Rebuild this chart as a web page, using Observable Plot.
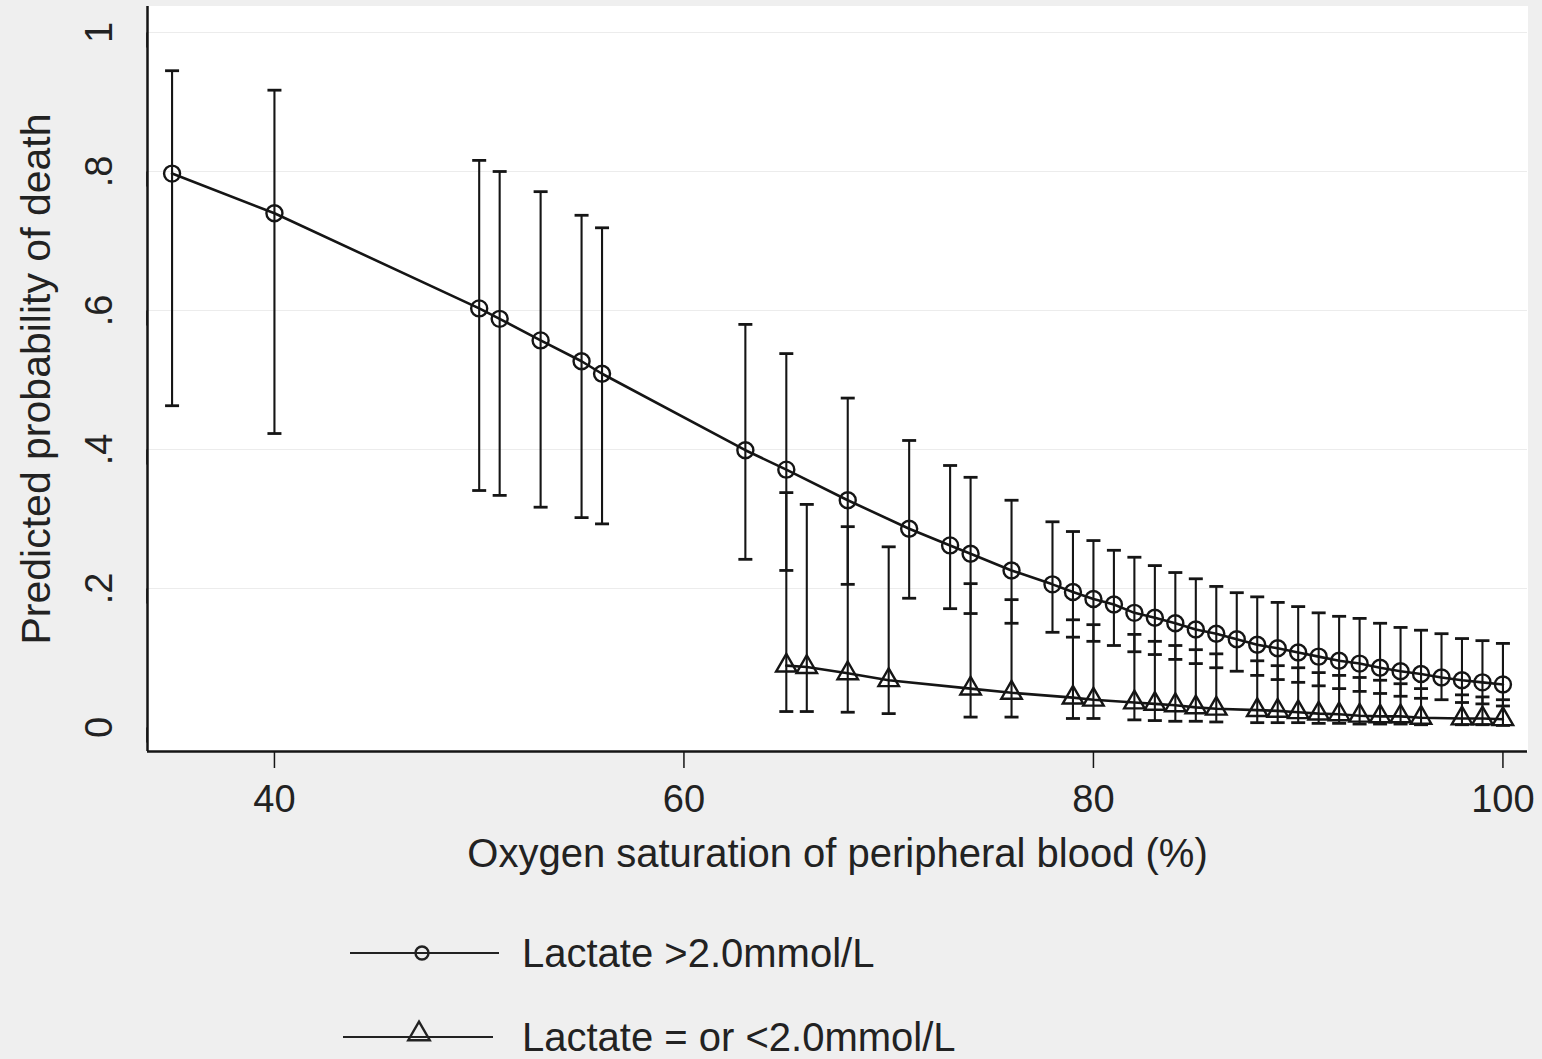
<!DOCTYPE html>
<html>
<head>
<meta charset="utf-8">
<script src="https://cdn.jsdelivr.net/npm/d3@7"></script>
<script src="https://cdn.jsdelivr.net/npm/@observablehq/plot@0.6"></script>
<style>
  html, body { margin: 0; padding: 0; background: #efefef; }
  #wrap { position: relative; width: 1542px; height: 1059px; background: #efefef; font-family: "Liberation Sans", Arial, sans-serif; color: #222; }
  #legend { position: absolute; left: 0; top: 900px; }
</style>
</head>
<body>
<div id="wrap">
  <div id="chart"></div>
  <svg id="legend" width="1542" height="159"></svg>
</div>
<script>
// Lactate >2.0mmol/L (circles)
const satHigh  = [35,40,50,51,53,55,56,63,65,68,71,73,74,76,78,79,80,81,82,83,84,85,86,87,88,89,90,91,92,93,94,95,96,97,98,99,100];
const probHigh = [0.797,0.740,0.603,0.588,0.557,0.527,0.509,0.399,0.371,0.327,0.286,0.262,0.250,0.226,0.206,0.195,0.185,0.177,0.165,0.158,0.150,0.141,0.135,0.127,0.119,0.114,0.108,0.102,0.096,0.092,0.086,0.081,0.077,0.072,0.068,0.065,0.062];
const lowHigh  = [0.463,0.423,0.341,0.334,0.317,0.302,0.293,0.242,0.226,0.206,0.186,0.171,0.164,0.150,0.137,0.130,0.124,0.118,0.109,0.105,0.098,0.092,0.086,0.081,0.075,0.069,0.065,0.060,0.056,0.052,0.049,0.045,0.042,0.040,0.036,0.034,0.031];
const upHigh   = [0.945,0.917,0.816,0.800,0.771,0.737,0.719,0.580,0.538,0.474,0.413,0.377,0.360,0.327,0.296,0.282,0.269,0.255,0.245,0.233,0.223,0.214,0.203,0.194,0.188,0.180,0.174,0.165,0.160,0.157,0.150,0.144,0.140,0.135,0.128,0.125,0.121];

// Lactate = or <2.0mmol/L (triangles)
const satLow  = [65,66,68,70,74,76,79,80,82,83,84,85,86,88,89,90,91,92,93,94,95,96,98,99,100];
const probLow = [0.089,0.087,0.078,0.068,0.056,0.050,0.043,0.040,0.036,0.034,0.032,0.029,0.027,0.025,0.024,0.022,0.020,0.019,0.017,0.016,0.016,0.014,0.013,0.013,0.012];
const lowLow  = [0.023,0.023,0.022,0.020,0.015,0.015,0.013,0.013,0.011,0.010,0.009,0.009,0.008,0.007,0.007,0.007,0.006,0.006,0.005,0.005,0.005,0.004,0.004,0.004,0.003];
const upLow   = [0.338,0.321,0.289,0.260,0.207,0.184,0.155,0.148,0.134,0.124,0.118,0.112,0.106,0.096,0.089,0.086,0.079,0.075,0.072,0.068,0.063,0.056,0.047,0.044,0.040];

const xTicks = [40, 60, 80, 100];
const yTicks = [0, 0.2, 0.4, 0.6, 0.8, 1];
const yTickLabels = ["0", ".2", ".4", ".6", ".8", "1"];
const xDomain = [33.8, 101.2];
const yDomain = [-0.0345, 1.0374];

const seriesNames = ["Lactate >2.0mmol/L", "Lactate = or <2.0mmol/L"];
const xLabel = "Oxygen saturation of peripheral blood (%)";
const yLabel = "Predicted probability of death";

const high = satHigh.map((x, i) => ({x, y: probHigh[i], lo: lowHigh[i], hi: upHigh[i]}));
const low  = satLow.map((x, i) => ({x, y: probLow[i], lo: lowLow[i], hi: upLow[i]}));

const cap = { draw(ctx, size) { const r = Math.sqrt(size / Math.PI); ctx.moveTo(-r, 0); ctx.lineTo(r, 0); } };
const ink = "#151515";

const errMarks = (data) => [
  Plot.ruleX(data, {x: "x", y1: "lo", y2: "hi", stroke: ink, strokeWidth: 2.1}),
  Plot.dot(data, {x: "x", y: "hi", symbol: cap, r: 7, stroke: ink, strokeWidth: 2.8}),
  Plot.dot(data, {x: "x", y: "lo", symbol: cap, r: 7, stroke: ink, strokeWidth: 2.8})
];

const chart = Plot.plot({
  width: 1542,
  height: 900,
  marginLeft: 147,
  marginRight: 15,
  marginTop: 6,
  marginBottom: 149,
  style: {background: "#efefef", fontFamily: "Liberation Sans, Arial, sans-serif", color: "#222"},
  x: {domain: xDomain},
  y: {domain: yDomain},
  marks: [
    Plot.frame({fill: "white", stroke: "white"}),
    Plot.gridY(yTicks.slice(1), {stroke: "#ececec", strokeOpacity: 1, strokeWidth: 1}),
    ...errMarks(high),
    ...errMarks(low),
    Plot.line(high, {x: "x", y: "y", stroke: ink, strokeWidth: 2.6}),
    Plot.line(low, {x: "x", y: "y", stroke: ink, strokeWidth: 2.6}),
    Plot.dot(high, {x: "x", y: "y", symbol: "circle", r: 8, stroke: ink, strokeWidth: 2.4, fill: "none"}),
    Plot.dot(low, {x: "x", y: "y", symbol: "triangle", r: 7.6, stroke: ink, strokeWidth: 2.4, fill: "none"}),
    Plot.ruleX([xDomain[0]], {stroke: ink, strokeWidth: 2.5}),
    Plot.ruleY([yDomain[0]], {stroke: ink, strokeWidth: 2.5}),
    Plot.axisX({ticks: xTicks, tickSize: 17, tickPadding: 17, fontSize: 38, stroke: ink, strokeWidth: 1.5,
      label: xLabel, labelArrow: "none", labelAnchor: "center", labelOffset: 115}),
    Plot.axisY({ticks: yTicks, tickFormat: (d, i) => yTickLabels[i], tickSize: 15, tickPadding: 33, fontSize: 38,
      rotate: -90, textAnchor: "middle", stroke: ink, strokeWidth: 1.5,
      label: yLabel, labelArrow: "none", labelAnchor: "center", labelOffset: 127})
  ]
});
chart.querySelectorAll("text").forEach(t => t.setAttribute("fill", "#222"));
chart.querySelectorAll('[aria-label="x-axis label"]').forEach(g => { g.setAttribute("font-size", 40); g.querySelectorAll("text").forEach(t => t.setAttribute("font-size", 40)); });
chart.querySelectorAll('[aria-label="y-axis label"]').forEach(g => { g.setAttribute("font-size", 41); g.querySelectorAll("text").forEach(t => t.setAttribute("font-size", 41)); });
document.getElementById("chart").appendChild(chart);

// Legend
const lg = d3.select("#legend");
const rows = [{name: seriesNames[0], y: 53, x1: 350, x2: 499, sx: 422, sym: "circle"},
              {name: seriesNames[1], y: 137, x1: 343, x2: 493, sx: 419, sym: "triangle"}];
rows.forEach(r => {
  lg.append("line").attr("x1", r.x1).attr("x2", r.x2).attr("y1", r.y).attr("y2", r.y)
    .attr("stroke", "#222").attr("stroke-width", 2);
  const type = r.sym === "circle" ? d3.symbolCircle : d3.symbolTriangle;
  const size = r.sym === "circle" ? Math.PI * 6.5 * 6.5 : Math.PI * 8 * 8;
  lg.append("path").attr("d", d3.symbol(type, size)()).attr("transform", `translate(${r.sx},${r.y - (r.sym === "triangle" ? 3 : 0)})`)
    .attr("fill", "none").attr("stroke", "#222").attr("stroke-width", 2.4);
  lg.append("text").attr("x", 522).attr("y", r.y + 14).attr("font-size", 40)
    .attr("font-family", "Liberation Sans, Arial, sans-serif").attr("fill", "#222").text(r.name);
});
</script>
</body>
</html>
